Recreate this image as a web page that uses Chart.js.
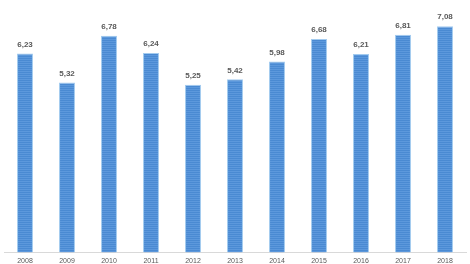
<!DOCTYPE html>
<html>
<head>
<meta charset="utf-8">
<script src="https://cdn.jsdelivr.net/npm/chart.js@4/dist/chart.umd.min.js"></script>
<style>
  html, body { margin: 0; padding: 0; background: #fff; }
  #wrap { width: 470px; height: 264px; }
</style>
</head>
<body>
<div id="wrap"><canvas id="chart"></canvas></div>
<script>
const years = ['2008', '2009', '2010', '2011', '2012', '2013', '2014', '2015', '2016', '2017', '2018'];
const values = [6.23, 5.32, 6.78, 6.24, 5.25, 5.42, 5.98, 6.68, 6.21, 6.81, 7.08];

// stripy blue fill like the original
function stripes(ctx) {
    const c = document.createElement('canvas');
    c.width = 4; c.height = 2;
    const p = c.getContext('2d');
    p.fillStyle = '#4a8ad2';
    p.fillRect(0, 0, 4, 2);
    p.fillStyle = '#5c98dc';
    p.fillRect(0, 1, 4, 1);
    return ctx.createPattern(c, 'repeat');
}

// values above bars, comma decimal
const valueLabels = {
    id: 'valueLabels',
    afterDatasetsDraw(chart) {
        const ctx = chart.ctx;
        const meta = chart.getDatasetMeta(0);
        ctx.save();
        ctx.font = 'bold 8px "Liberation Sans", Arial, sans-serif';
        ctx.fillStyle = '#595959';
        ctx.textAlign = 'center';
        ctx.textBaseline = 'bottom';
        meta.data.forEach((bar, i) => {
            ctx.fillText(values[i].toFixed(2).replace('.', ','), bar.x, bar.y - 5);
        });
        ctx.restore();
    }
};

const ctx = document.getElementById('chart').getContext('2d');

new Chart(ctx, {
    type: 'bar',
    data: {
        labels: years,
        datasets: [{
            data: values,
            backgroundColor: stripes(ctx),
            borderColor: '#a3cbef',
            borderWidth: 1,
            categoryPercentage: 1,
            barPercentage: 0.38
        }]
    },
    options: {
        responsive: true,
        maintainAspectRatio: false,
        animation: false,
        layout: { padding: { left: 4, right: 4, top: 0, bottom: -5 } },
        plugins: {
            legend: { display: false },
            tooltip: { enabled: false }
        },
        scales: {
            x: {
                grid: { display: false, drawTicks: false },
                border: { display: true, color: '#d9d9d9', width: 1 },
                ticks: {
                    color: '#595959',
                    font: { size: 7, family: '"Liberation Sans", Arial, sans-serif' },
                    padding: 4,
                    maxRotation: 0
                }
            },
            y: {
                display: false,
                min: 0,
                max: 7.9
            }
        }
    },
    plugins: [valueLabels]
});
</script>
</body>
</html>
